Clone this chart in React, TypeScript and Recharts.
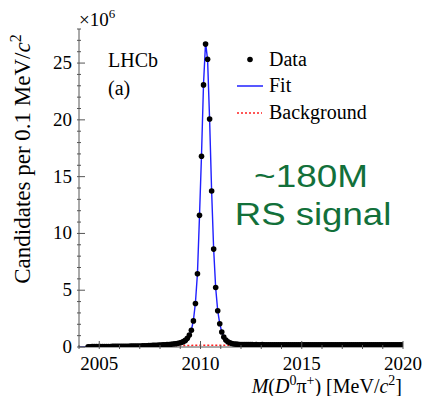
import React from 'react';
import { ComposedChart, XAxis, YAxis, Scatter, Line, Customized } from 'recharts';

// D*+ -> D0 pi+ mass spectrum, counts in units of 10^6 per 0.1 MeV bin
const binStart = 2004.45;
const binWidth = 0.1;

const counts = [
  0.01, 0.02, 0.03, 0.03, 0.04, 0.04, 0.04, 0.05, 0.05, 0.05,
  0.05, 0.05, 0.06, 0.06, 0.06, 0.06, 0.06, 0.07, 0.07, 0.07,
  0.07, 0.08, 0.08, 0.08, 0.09, 0.09, 0.09, 0.10, 0.10, 0.11,
  0.12, 0.13, 0.14, 0.15, 0.16, 0.17, 0.18, 0.19, 0.20, 0.21,
  0.22, 0.24, 0.26, 0.28, 0.31, 0.35, 0.40, 0.47, 0.58, 0.76,
  1.05, 1.47, 2.30, 3.83, 6.44, 11.59, 16.79, 23.08, 26.67, 25.34,
  20.08, 13.73, 8.62, 5.24, 3.19, 2.05, 1.32, 0.88, 0.62, 0.46,
  0.37, 0.31, 0.27, 0.25, 0.23, 0.22, 0.21, 0.21, 0.21, 0.21,
  0.21, 0.21, 0.20, 0.21, 0.20, 0.20, 0.21, 0.20, 0.20, 0.20,
  0.20, 0.20, 0.20, 0.20, 0.20, 0.20, 0.20, 0.20, 0.20, 0.20,
  0.20, 0.20, 0.20, 0.20, 0.20, 0.20, 0.20, 0.20, 0.20, 0.20,
  0.20, 0.20, 0.20, 0.20, 0.20, 0.20, 0.19, 0.20, 0.20, 0.19,
  0.19, 0.20, 0.19, 0.19, 0.19, 0.19, 0.19, 0.19, 0.19, 0.19,
  0.19, 0.19, 0.19, 0.19, 0.19, 0.19, 0.19, 0.19, 0.19, 0.19,
  0.19, 0.19, 0.19, 0.19, 0.19, 0.19, 0.19, 0.19, 0.19, 0.19,
  0.19, 0.19, 0.19, 0.19, 0.19, 0.19,
];

const fitMass = [
  2004.0, 2004.41, 2004.45, 2005.0, 2006.0, 2007.0, 2007.5, 2008.0, 2008.5, 2008.8,
  2009.0, 2009.2, 2009.35, 2009.45, 2009.55, 2009.65, 2009.75, 2009.85, 2009.95, 2010.05,
  2010.15, 2010.25, 2010.35, 2010.45, 2010.55, 2010.65, 2010.75, 2010.85, 2010.95, 2011.05,
  2011.15, 2011.3, 2011.5, 2011.8, 2012.5, 2014.0, 2016.0, 2018.0, 2020.0,
];
const fitValues = [
  0, 0, 0.01, 0.04, 0.06, 0.09, 0.12, 0.17, 0.22, 0.29,
  0.36, 0.5, 0.74, 1.05, 1.5, 2.35, 3.9, 6.5, 11.5, 16.9,
  23.2, 26.8, 25.3, 20.0, 13.7, 8.6, 5.2, 3.2, 2.05, 1.32,
  0.88, 0.56, 0.37, 0.24, 0.21, 0.2, 0.2, 0.2, 0.19,
];

const bkgMass = [2004.41, 2005.0, 2007.0, 2009.0, 2010.0, 2011.0, 2012.0, 2016.0, 2020.0];
const bkgValues = [0, 0.03, 0.08, 0.13, 0.15, 0.16, 0.17, 0.18, 0.19];

const xTicks = [2004, 2005, 2006, 2007, 2008, 2009, 2010, 2011, 2012, 2013, 2014, 2015, 2016, 2017, 2018, 2019, 2020];
const yTicks = [0, 1, 2, 3, 4, 5, 6, 7, 8, 9, 10, 11, 12, 13, 14, 15, 16, 17, 18, 19, 20, 21, 22, 23, 24, 25, 26, 27, 28];

const dataPoints = counts.map((v, i) => ({ m: +(binStart + i * binWidth).toFixed(2), v }));
const fitPoints = fitMass.map((m, i) => ({ m, v: fitValues[i] }));
const bkgPoints = bkgMass.map((m, i) => ({ m, v: bkgValues[i] }));

const SERIF = "'Liberation Serif', 'Times New Roman', serif";
const FRAME = '#555';

const BottomTick = (p: any) => {
  const major = p.payload.value % 5 === 0;
  return (
    <g>
      <line x1={p.x} x2={p.x} y1={p.y} y2={p.y - (major ? 8 : 4)} stroke={FRAME} />
      {major && p.payload.value !== 2004 && (
        <text x={p.x} y={p.y + 21} textAnchor="middle" fontFamily={SERIF} fontSize={19} fill="#000">
          {p.payload.value}
        </text>
      )}
    </g>
  );
};

const TopTick = (p: any) => {
  const major = p.payload.value % 5 === 0;
  return <line x1={p.x} x2={p.x} y1={p.y} y2={p.y + (major ? 8 : 4)} stroke={FRAME} />;
};

const LeftTick = (p: any) => {
  const major = p.payload.value % 5 === 0;
  return (
    <g>
      <line x1={p.x} x2={p.x + (major ? 8 : 4)} y1={p.y} y2={p.y} stroke={FRAME} />
      {major && (
        <text x={p.x - 5} y={p.y + 6} textAnchor="end" fontFamily={SERIF} fontSize={19} fill="#000">
          {p.payload.value}
        </text>
      )}
    </g>
  );
};

const RightTick = (p: any) => {
  const major = p.payload.value % 5 === 0;
  return <line x1={p.x} x2={p.x - (major ? 8 : 4)} y1={p.y} y2={p.y} stroke={FRAME} />;
};

const Dot = (p: any) => <circle cx={p.cx} cy={p.cy} r={2.8} fill="#000" />;

const Annotations = () => (
  <g fontFamily={SERIF} fill="#000">
    <text x={79} y={26} fontSize={19}>
      ×10<tspan dy={-8} fontSize={13}>6</tspan>
    </text>
    <text transform="rotate(-90)" x={-159} y={30} textAnchor="middle" fontSize={23}>
      Candidates per 0.1 MeV/<tspan fontStyle="italic">c</tspan>
      <tspan dy={-9} fontSize={16}>2</tspan>
    </text>
    <text x={402} y={393} textAnchor="end" fontSize={20}>
      <tspan fontStyle="italic">M</tspan>(<tspan fontStyle="italic">D</tspan>
      <tspan dy={-8} fontSize={14}>0</tspan>
      <tspan dy={8}>π</tspan>
      <tspan dy={-8} fontSize={14}>+</tspan>
      <tspan dy={8}>) [MeV/</tspan>
      <tspan fontStyle="italic">c</tspan>
      <tspan dy={-8} fontSize={14}>2</tspan>
      <tspan dy={8}>]</tspan>
    </text>
    <text x={108} y={67} fontSize={20}>LHCb</text>
    <text x={108} y={95} fontSize={20}>(a)</text>
    <circle cx={250} cy={59.5} r={2.8} fill="#000" />
    <text x={269} y={66} fontSize={20}>Data</text>
    <line x1={237} x2={263} y1={86} y2={86} stroke="#2020ff" strokeWidth={1.5} />
    <text x={269} y={92} fontSize={20}>Fit</text>
    <line x1={237} x2={262} y1={113} y2={113} stroke="#ff2020" strokeWidth={1.5} strokeDasharray="2 2" />
    <text x={269} y={119} fontSize={20}>Background</text>
    <g fontFamily="'Liberation Sans', Arial, sans-serif" fill="#12703a" fontSize={31} textAnchor="middle">
      <text transform="translate(311,187) scale(1.19,1)">~180M</text>
      <text transform="translate(313,225) scale(1.18,1)">RS signal</text>
    </g>
  </g>
);

export default function App() {
  return (
    <div style={{ position: 'absolute', left: 0, top: 0, width: 423, height: 396, background: '#fff' }}>
      <ComposedChart width={423} height={396} margin={{ top: 29, right: 20, bottom: 0, left: 0 }}>
        <XAxis
          type="number"
          dataKey="m"
          domain={[2004, 2020]}
          ticks={xTicks}
          interval={0}
          height={49}
          tickSize={0}
          tickLine={false}
          axisLine={{ stroke: FRAME }}
          tick={(p: any) => <BottomTick {...p} />}
          allowDataOverflow
        />
        <XAxis
          xAxisId="top"
          orientation="top"
          type="number"
          dataKey="m"
          domain={[2004, 2020]}
          ticks={xTicks}
          interval={0}
          height={0}
          tickSize={0}
          tickLine={false}
          axisLine={{ stroke: FRAME }}
          tick={(p: any) => <TopTick {...p} />}
          allowDataOverflow
        />
        <YAxis
          type="number"
          domain={[0, 28]}
          ticks={yTicks}
          interval={0}
          width={79}
          tickSize={0}
          tickLine={false}
          axisLine={{ stroke: FRAME }}
          tick={(p: any) => <LeftTick {...p} />}
          allowDataOverflow
        />
        <YAxis
          yAxisId="right"
          orientation="right"
          type="number"
          domain={[0, 28]}
          ticks={yTicks}
          interval={0}
          width={0}
          tickSize={0}
          tickLine={false}
          axisLine={{ stroke: FRAME }}
          tick={(p: any) => <RightTick {...p} />}
          allowDataOverflow
        />
        <Line
          data={bkgPoints}
          dataKey="v"
          type="monotone"
          stroke="#ff2020"
          strokeWidth={1.5}
          strokeDasharray="2 2"
          dot={false}
          isAnimationActive={false}
        />
        <Line
          data={fitPoints}
          dataKey="v"
          type="linear"
          stroke="#2020ff"
          strokeWidth={1.4}
          dot={false}
          isAnimationActive={false}
        />
        <Scatter data={dataPoints} dataKey="v" shape={Dot} isAnimationActive={false} />
        <Customized component={Annotations} />
      </ComposedChart>
    </div>
  );
}
